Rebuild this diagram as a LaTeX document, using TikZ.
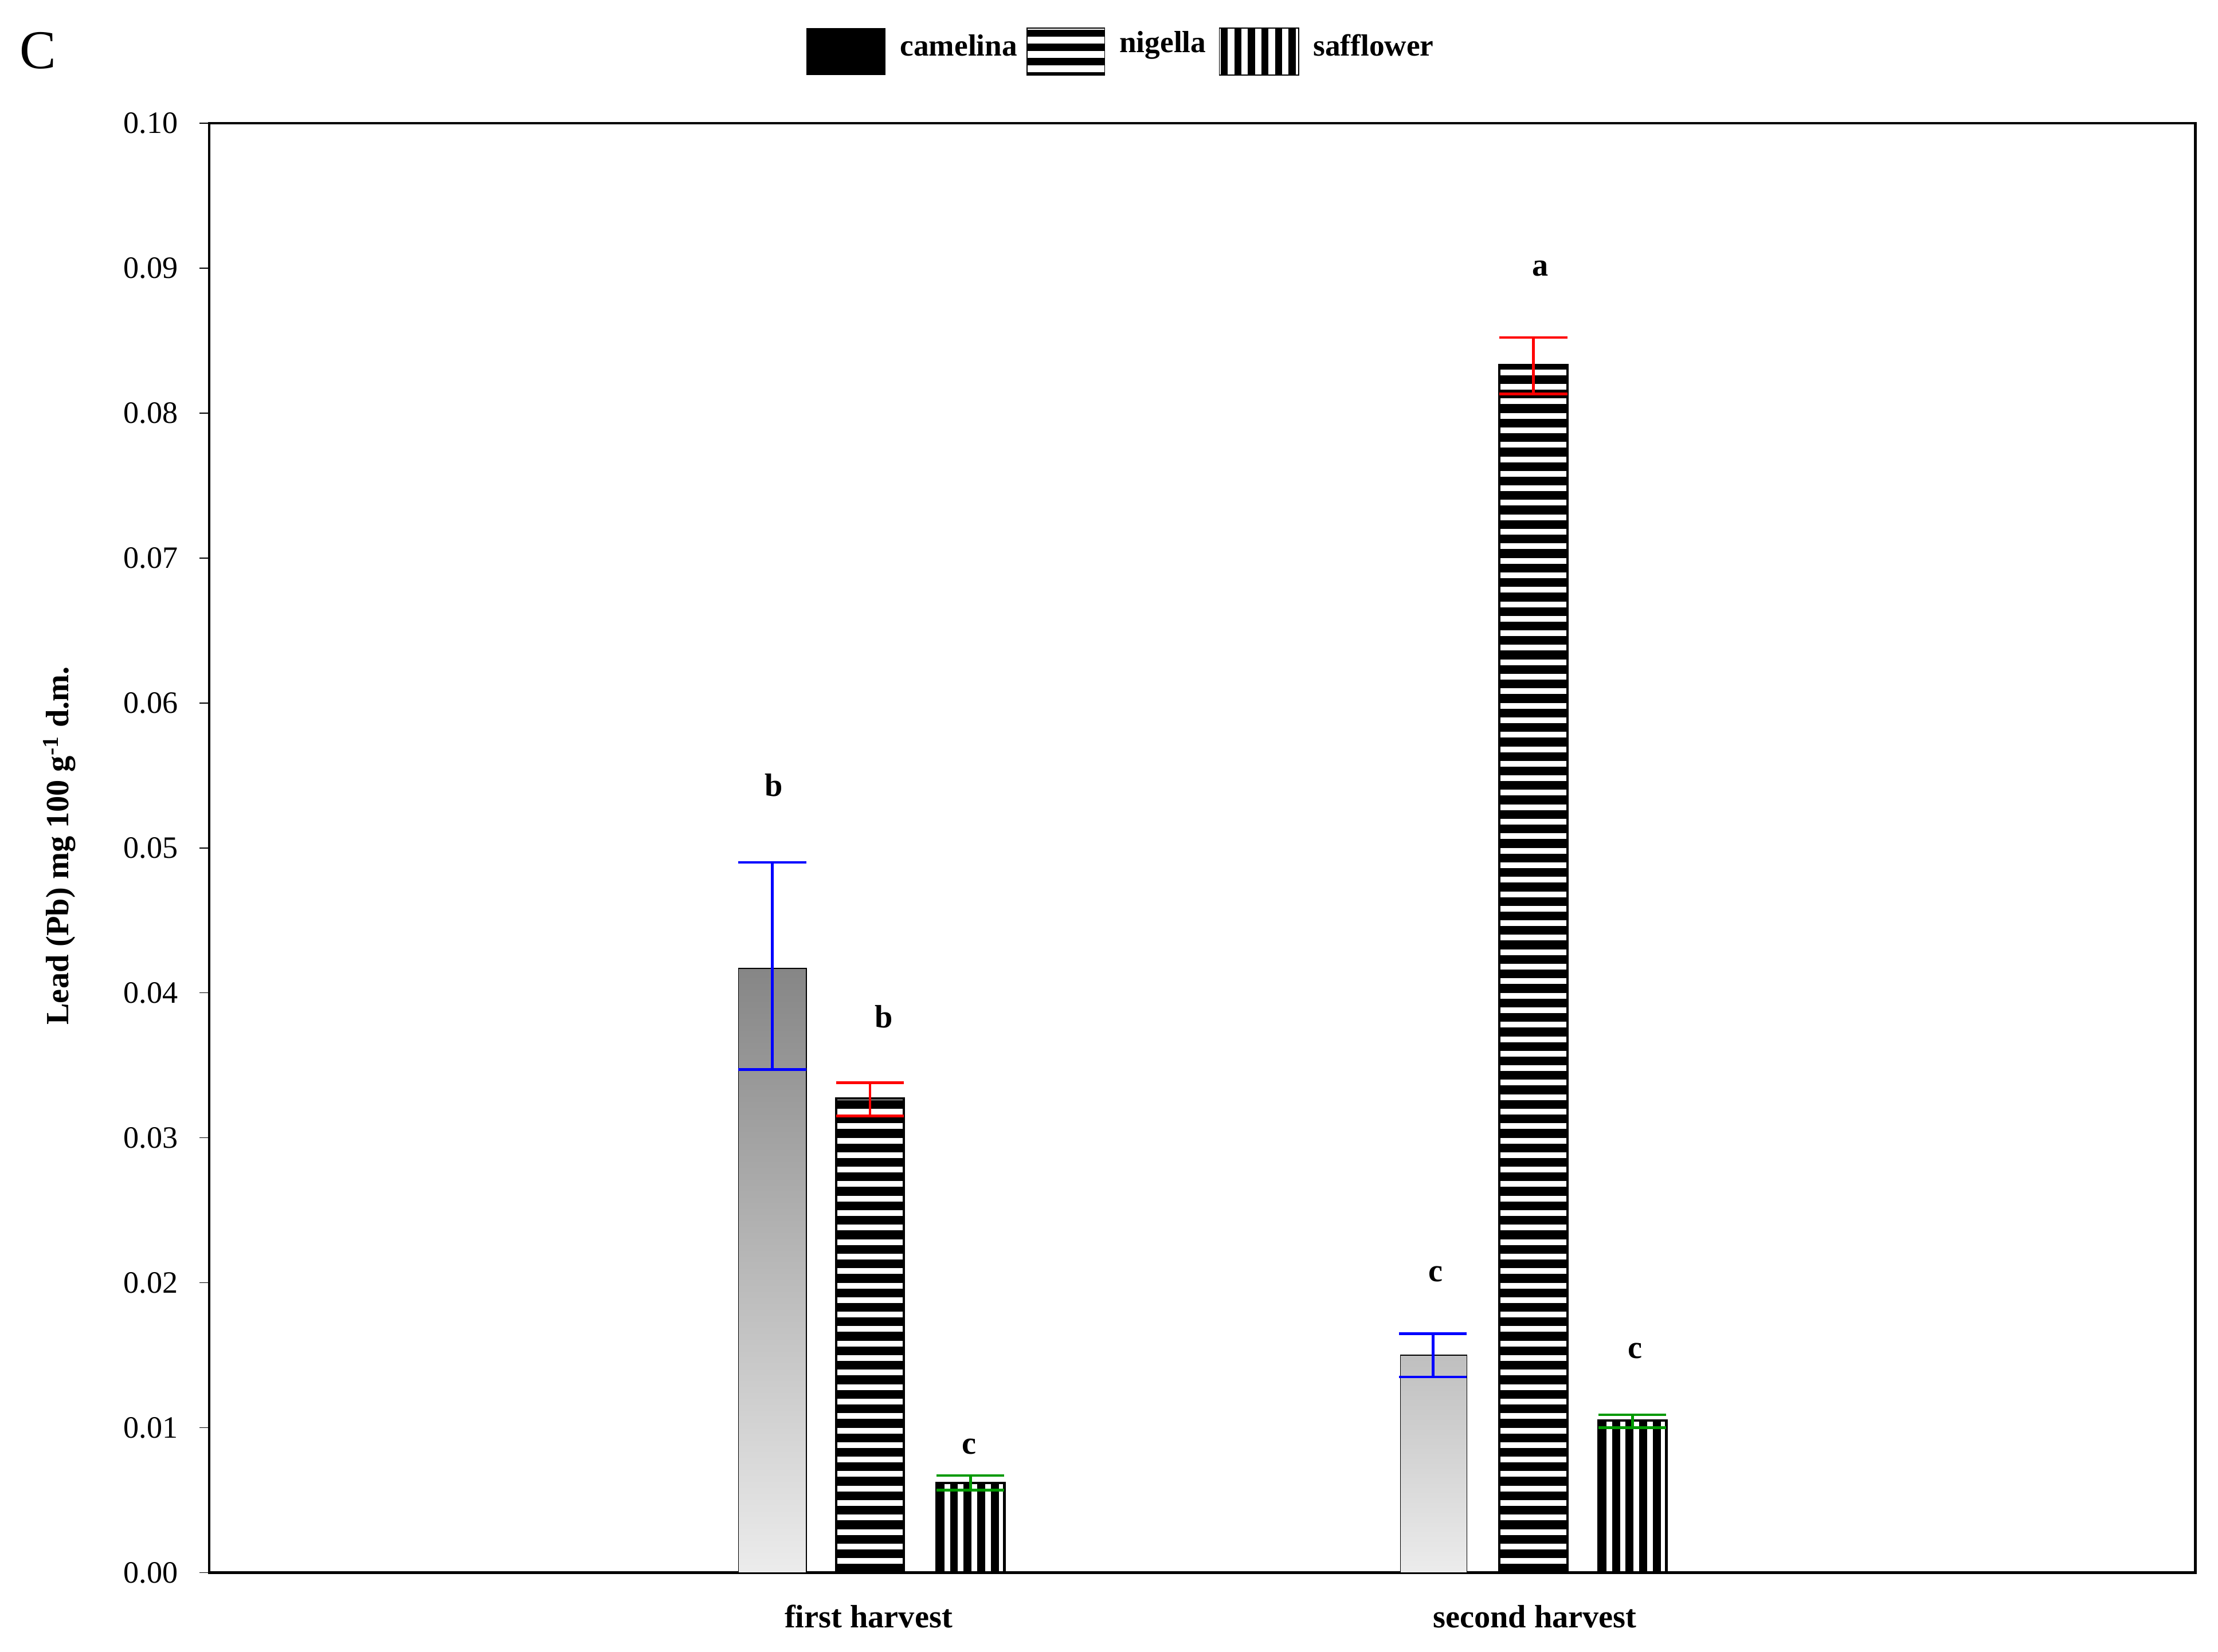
\documentclass[tikz,border=0pt]{standalone}
\usepackage{fontspec}
\setmainfont{Liberation Serif}
\usepackage{tikz}
\begin{document}
\begin{tikzpicture}[x=0.02cm,y=-0.02cm,
  lbl/.style={font=\bfseries\fontsize{13}{15}\selectfont},
  leg/.style={font=\bfseries\fontsize{12.3}{15}\selectfont,anchor=west,inner sep=0pt},
  tick/.style={font=\fontsize{12.5}{15}\selectfont,anchor=east},
  ebar/.style={line width=1.1pt}]
\pgfkeys{/pgf/number format/assume math mode=true}
\useasboundingbox (0,0) rectangle (1568,1168);
\fill[white] (0,0) rectangle (1568,1168);
% axis box
\draw[line width=1pt] (148,87) rectangle (1552,1112);
\foreach \i in {0,...,10}{
  \pgfmathsetmacro{\yy}{1112-\i*102.5}
  \draw (148,\yy) -- (141,\yy);
  \pgfmathsetmacro{\lab}{\i/100}
  \node[tick] at (132,\yy) {\pgfmathprintnumber[fixed,precision=2,fixed zerofill]{\lab}};
}
\node[lbl,rotate=90] (ylab) at (42,598) {Lead (Pb) mg 100 g\textsuperscript{-1} d.m.};
\node[font=\fontsize{22}{24}\selectfont] (C) at (27,36) {C};
% camelina bars
\shade[top color=gray!95, bottom color=gray!15] (522,684.6) rectangle (570,1112);
\draw (522,684.6) rectangle (570,1112);
\shade[top color=gray!50, bottom color=gray!15] (990,958.3) rectangle (1037,1112);
\draw (990,958.3) rectangle (1037,1112);
% nigella bars
\foreach \xa/\xb/\v in {591/639/0.0327, 1060/1108/0.0833}{
  \pgfmathsetmacro{\top}{1112-\v*10250}
  \begin{scope}
    \clip (\xa,\top) rectangle (\xb,1112);
    \fill[white] (\xa,\top) rectangle (\xb,1112);
    \pgfmathtruncatemacro{\n}{\v*1000+1}
    \foreach \k in {0,...,\n}{
      \fill[black] (\xa,{1112-\k*10.25}) rectangle (\xb,{1112-\k*10.25-6.2});
    }
  \end{scope}
  \draw[line width=1pt] (\xa,\top) rectangle (\xb,1112);
}
% safflower bars
\foreach \xa/\xb/\v in {662/710/0.0062, 1130/1178/0.0105}{
  \pgfmathsetmacro{\top}{1112-\v*10250}
  \begin{scope}
    \clip (\xa,\top) rectangle (\xb,1112);
    \fill[white] (\xa,\top) rectangle (\xb,1112);
    \foreach \k in {0,...,5}{
      \fill[black] ({\xa+\k*9.6},\top) rectangle ({\xa+\k*9.6+5.6},1112);
    }
  \end{scope}
  \draw[line width=1pt] (\xa,\top) rectangle (\xb,1112);
}
% error bars
\foreach \x/\lo/\hi/\c in {546/0.0347/0.049/blue, 615/0.0315/0.0338/red, 686/0.0057/0.0067/green!60!black,
  1013/0.0135/0.0165/blue, 1084/0.0813/0.0852/red, 1154/0.0100/0.0109/green!60!black}{
  \draw[ebar,\c] (\x,{1112-\lo*10250}) -- (\x,{1112-\hi*10250});
  \draw[ebar,\c] (\x-24,{1112-\lo*10250}) -- (\x+24,{1112-\lo*10250});
  \draw[ebar,\c] (\x-24,{1112-\hi*10250}) -- (\x+24,{1112-\hi*10250});
}
% letters
\node[lbl] (l1) at (547,555) {b};
\node[lbl] (l2) at (625,719) {b};
\node[lbl] (l3) at (685,1023) {c};
\node[lbl] (l4) at (1015,901) {c};
\node[lbl] (l5) at (1089,190) {a};
\node[lbl] (l6) at (1156,955) {c};
% x labels
\node[lbl] (x1) at (614,1143) {first harvest};
\node[lbl] (x2) at (1085,1143) {second harvest};
% legend
\fill[black] (570,20) rectangle (626,53);
\node[leg] (t1) at (636,32) {camelina};
\begin{scope}
  \clip (726,20) rectangle (781,53);
  \foreach \k in {0,...,3}{\fill (726,{21+\k*10}) rectangle (781,{26+\k*10});}
\end{scope}
\draw (726,20) rectangle (781,53);
\node[leg] (t2) at (791,32) {nigella};
\begin{scope}
  \clip (862,20) rectangle (918,53);
  \foreach \k in {0,...,5}{\fill ({863+\k*9.6},20) rectangle ({868+\k*9.6},53);}
\end{scope}
\draw (862,20) rectangle (918,53);
\node[leg] (t3) at (928,32) {safflower};
\end{tikzpicture}
\end{document}
